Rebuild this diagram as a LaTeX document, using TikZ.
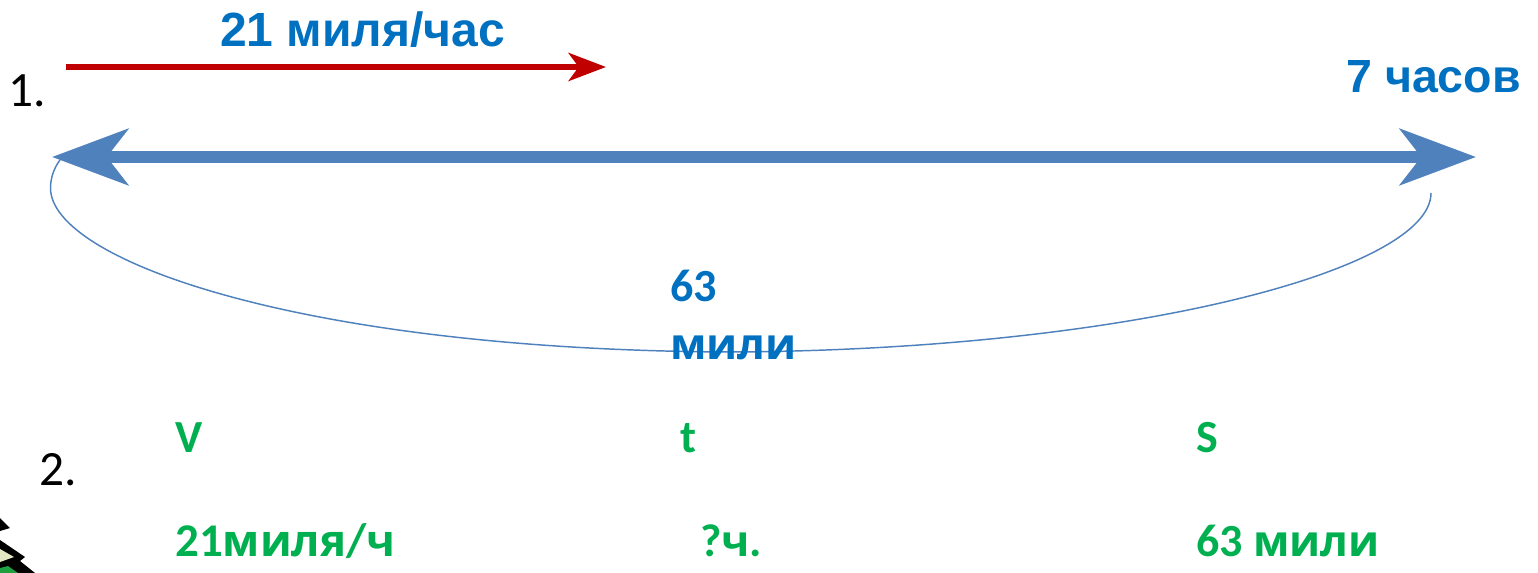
\documentclass[tikz,border=0pt]{standalone}
\usepackage{fontspec}
\setmainfont{Carlito}
\newfontfamily\arialb{Liberation Sans}
\newfontfamily\cyrf[Scale=0.94]{Open Sans}
\newcommand{\cy}[1]{{\cyrf #1}}
\usetikzlibrary{arrows.meta}
\definecolor{bluetxt}{HTML}{0070C0}
\definecolor{greentxt}{HTML}{00B050}
\definecolor{steel}{HTML}{4F81BD}
\definecolor{darkred}{HTML}{C00000}
\definecolor{cream}{HTML}{E4E8C4}
\definecolor{treegreen}{HTML}{1FA040}
\tikzset{
 x=0.75pt,y=-0.75pt,
 bluelabel/.style={anchor=base west,inner sep=0,text=bluetxt,font=\arialb\bfseries\fontsize{34.9}{37}\selectfont},
 bluecal/.style={anchor=base west,inner sep=0,text=bluetxt,font=\bfseries\fontsize{34.5}{36}\selectfont},
 greenlabel/.style={anchor=base west,inner sep=0,text=greentxt,font=\bfseries\fontsize{34.5}{36}\selectfont},
 numlabel/.style={anchor=base west,inner sep=0,text=black,font=\fontsize{37}{39}\selectfont},
 redarrow/.style={darkred,line width=4.5pt,-{Stealth[length=28pt,width=21pt,inset=7.5pt]}},
 bluearrow/.style={steel,line width=9pt,{Stealth[length=57pt,width=42pt,inset=16pt]}-{Stealth[length=57pt,width=42pt,inset=16pt]}},
 curve/.style={steel,line width=1.1pt},
}
\begin{document}
\begin{tikzpicture}
\useasboundingbox (0,0) rectangle (1538,573);
\coordinate (ra) at (66,67);
\coordinate (rb) at (606,67);
\coordinate (bl) at (52,157);
\coordinate (br) at (1476,157);
\coordinate (ca) at (60,160);
\coordinate (cl) at (50.5,188);
\coordinate (cm) at (730,352);
\coordinate (cb) at (1431,193);
\draw[redarrow] (ra) -- (rb);
\draw[bluearrow] (bl) -- (br);
\draw[curve] (ca) .. controls (54,168) and (50.5,178) .. (cl)
  .. controls (50.5,260) and (300,350) .. (cm)
  .. controls (1130,350) and (1431,270) .. (cb);
% tree fragment
\fill[black] (0,518) -- (10,528) -- (0,531) -- cycle;
\fill[black] (0,540) -- (25,557) -- (20,561) -- (35,573) -- (0,573) -- cycle;
\fill[cream] (0,549) -- (14,557) -- (0,562) -- cycle;
\fill[treegreen] (0,573) -- (0,568) -- (8,566) -- (18,573) -- cycle;
% labels
\node[bluelabel,font=\arialb\bfseries\fontsize{36}{38}\selectfont] (speed) at (220,47) {21 миля/час};
\node[bluelabel] (time) at (1346,93) {7 часов};
\node[bluecal] (d1) at (670,302) {63};
\node[bluecal] (d2) at (670,360) {\cy{мили}};
\node[numlabel] (n1) at (8,107) {1.};
\node[numlabel] (n2) at (39,485) {2.};
\node[greenlabel] (hv) at (175,452) {V};
\node[greenlabel] (ht) at (680,452) {t};
\node[greenlabel] (hs) at (1196,452) {S};
\node[greenlabel,font=\bfseries\fontsize{35.2}{37}\selectfont] (vv) at (175,556) {21\cy{миля}/\cy{ч}};
\node[greenlabel] (vt) at (700,556) {?\cy{ч}.};
\node[greenlabel] (vs) at (1196,556) {63 \cy{мили}};
\end{tikzpicture}
\end{document}
